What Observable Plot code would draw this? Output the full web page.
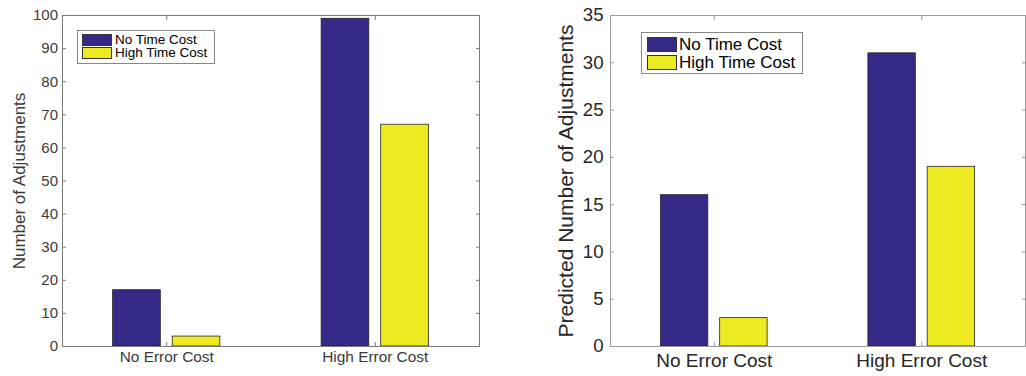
<!DOCTYPE html>
<html><head><meta charset="utf-8">
<script src="https://cdn.jsdelivr.net/npm/d3@7"></script>
<script src="https://cdn.jsdelivr.net/npm/@observablehq/plot@0.6"></script>
<style>
body{margin:0;background:#fff;}
#wrap{position:relative;width:1026px;height:376px;overflow:hidden;font-family:"Liberation Sans",Arial,Helvetica,sans-serif;}
.panel{position:absolute;top:0;}
.legend{position:absolute;background:#fff;border:1px solid #888;box-sizing:border-box;}
.sw{position:absolute;box-sizing:border-box;border:1px solid #333;}
.lt{position:absolute;white-space:nowrap;color:#000;}
</style></head><body><div id="wrap"></div>
<script>
// ---- data ----
const categories = ["No Error Cost", "High Error Cost"];
const series = ["No Time Cost", "High Time Cost"];
const seriesColors = ["#352a87", "#eeea22"];
const observedNoTime = [17, 99];
const observedHighTime = [3, 67];
const predictedNoTime = [16, 31];
const predictedHighTime = [3, 19];
const observedTicks = [0, 10, 20, 30, 40, 50, 60, 70, 80, 90, 100];
const predictedTicks = [0, 5, 10, 15, 20, 25, 30, 35];
const observedLabel = "Number of Adjustments";
const predictedLabel = "Predicted Number of Adjustments";

const FONT = '"Liberation Sans", Arial, Helvetica, sans-serif';

function buildRows(valuesBySeries) {
  const n = series.length;
  const gw = Math.min(0.8, n / (n + 1.5));
  const bw = 0.8 * gw / n;
  const rows = [];
  categories.forEach((cat, i) => {
    series.forEach((s, j) => {
      const center = (i + 1) - gw / 2 + (2 * j + 1) * gw / (2 * n);
      rows.push({category: cat, series: s, value: valuesBySeries[j][i], x1: center - bw / 2, x2: center + bw / 2});
    });
  });
  return rows;
}

function chart(cfg) {
  const rows = buildRows(cfg.values);
  return Plot.plot({
    width: cfg.width, height: 376,
    marginLeft: cfg.marginLeft, marginRight: cfg.marginRight, marginTop: 15, marginBottom: 30,
    style: {fontFamily: FONT, fontSize: cfg.fs + "px", color: cfg.textColor, background: "transparent", overflow: "visible"},
    x: {domain: [0.5, 2.5], axis: null},
    y: {domain: [0, cfg.ymax], axis: null},
    color: {domain: series, range: seriesColors},
    marks: [
      Plot.rectY(rows, {x1: "x1", x2: "x2", y1: 0, y2: "value", fill: "series", stroke: "#222", strokeWidth: 0.8}),
      Plot.frame({stroke: cfg.axisColor}),
      Plot.axisY({ticks: cfg.ticks, tickSize: -4, tickPadding: cfg.yPad, stroke: cfg.axisColor, label: null, fontSize: cfg.fs}),
      Plot.axisY({anchor: "right", ticks: cfg.ticks, tickSize: -4, tickFormat: () => "", stroke: cfg.axisColor, label: null}),
      Plot.axisX({ticks: [1, 2], tickFormat: i => categories[i - 1], tickSize: -4, tickPadding: cfg.xPad, stroke: cfg.axisColor, label: null, fontSize: cfg.xfs}),
      Plot.axisX({anchor: "top", ticks: [1, 2], tickSize: -4, tickFormat: () => "", stroke: cfg.axisColor, label: null}),
      Plot.text([cfg.label], {frameAnchor: "left", textAnchor: "middle", dx: -cfg.labelOffset, rotate: -90, lineAnchor: "top", fontSize: cfg.labelSize, fill: cfg.textColor})
    ]
  });
}

function legend(cfg) {
  const box = document.createElement("div");
  box.className = "legend";
  Object.assign(box.style, {left: cfg.left + "px", top: cfg.top + "px", width: cfg.w + "px", height: cfg.h + "px"});
  series.forEach((s, j) => {
    const sw = document.createElement("div");
    sw.className = "sw";
    Object.assign(sw.style, {left: cfg.swLeft + "px", top: (cfg.swTop + j * cfg.rowStep) + "px", width: cfg.swW + "px", height: cfg.swH + "px", background: seriesColors[j]});
    const t = document.createElement("div");
    t.className = "lt";
    t.textContent = s;
    Object.assign(t.style, {left: cfg.textLeft + "px", top: (cfg.swTop + j * cfg.rowStep) + "px", height: cfg.swH + "px", lineHeight: cfg.swH + "px", fontSize: cfg.fs + "px"});
    box.appendChild(sw); box.appendChild(t);
  });
  return box;
}

const wrap = document.getElementById("wrap");

const left = chart({
  width: 500, marginLeft: 62, marginRight: 21, values: [observedNoTime, observedHighTime],
  ymax: 100, ticks: observedTicks, fs: 15, xfs: 15.4, yPad: 8.5, xPad: 9, textColor: "#3a3a3a", axisColor: "#7a7a7a",
  label: observedLabel, labelSize: 17, labelOffset: 50
});
left.classList.add("panel"); left.style.left = "0px";
wrap.appendChild(left);

const right = chart({
  width: 526, marginLeft: 110, marginRight: 1, values: [predictedNoTime, predictedHighTime],
  ymax: 35, ticks: predictedTicks, fs: 18.6, xfs: 19, yPad: 11, xPad: 11, textColor: "#262626", axisColor: "#9a9a9a",
  label: predictedLabel, labelSize: 21, labelOffset: 52
});
right.classList.add("panel"); right.style.left = "500px";
wrap.appendChild(right);

const lg1 = legend({left: 77, top: 30, w: 138, h: 34, swLeft: 4, swTop: 3, swW: 30, swH: 12, rowStep: 13, textLeft: 37, fs: 13.5});
wrap.appendChild(lg1);
const lg2 = legend({left: 641, top: 32, w: 162, h: 42, swLeft: 5, swTop: 4, swW: 30, swH: 15, rowStep: 18, textLeft: 37, fs: 17});
wrap.appendChild(lg2);
</script></body></html>
